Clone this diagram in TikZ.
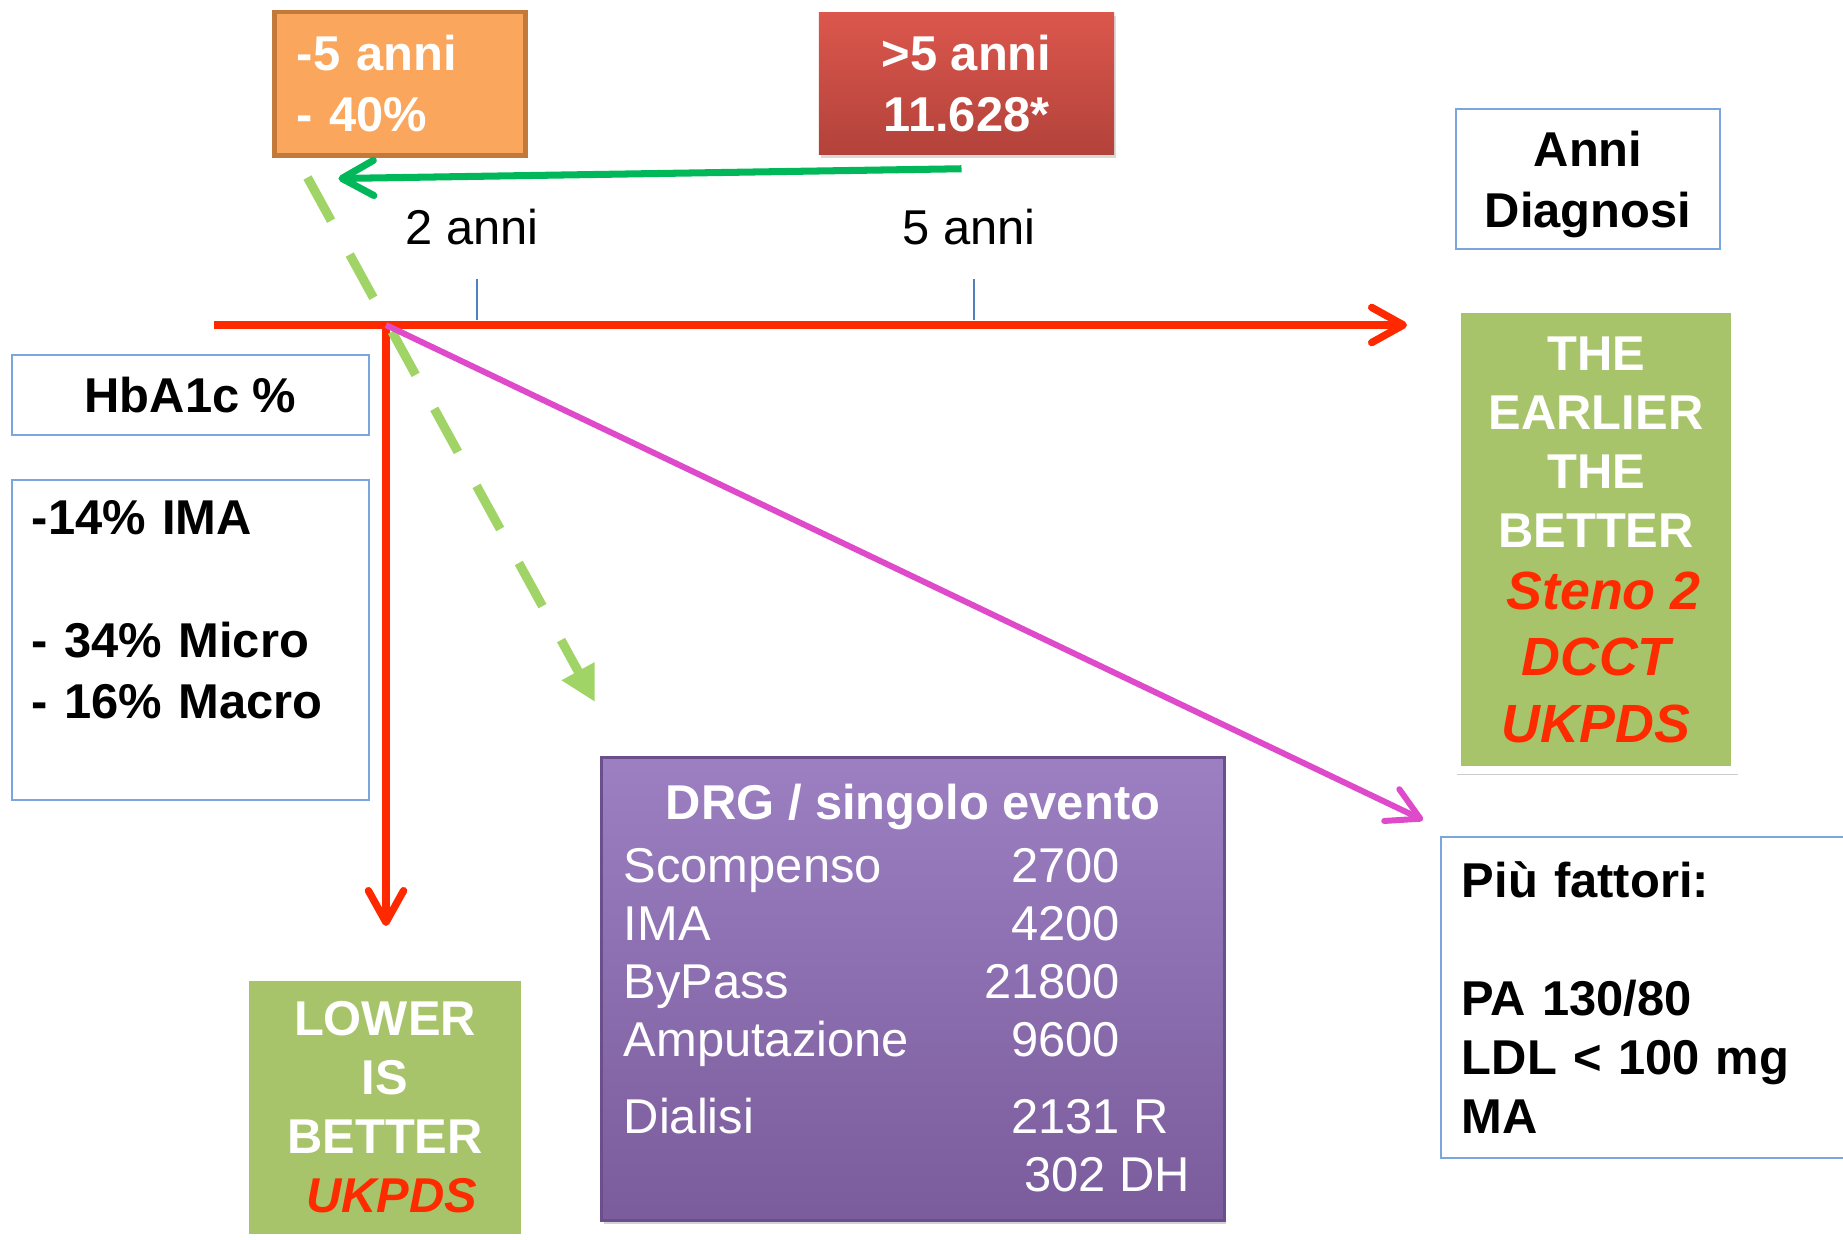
\documentclass[tikz,border=0pt]{standalone}
\usepackage{fontspec}
\setmainfont{Liberation Sans}
\usepackage{xcolor}
\usetikzlibrary{arrows.meta,shadows,positioning}
\definecolor{tangerine}{rgb}{0.98, 0.65, 0.36}
\definecolor{tangerinedark}{rgb}{0.76, 0.48, 0.23}
\definecolor{brickred}{rgb}{0.86, 0.34, 0.30}
\definecolor{brickdark}{rgb}{0.70, 0.26, 0.23}
\definecolor{axisred}{rgb}{1.0, 0.16, 0.0}
\definecolor{emerald}{rgb}{0.0, 0.72, 0.35}
\definecolor{limegreen}{rgb}{0.63, 0.83, 0.40}
\definecolor{orchid}{rgb}{0.87, 0.29, 0.79}
\definecolor{skyblue}{rgb}{0.48, 0.65, 0.87}
\definecolor{steelblue}{rgb}{0.31, 0.51, 0.74}
\definecolor{sagegreen}{rgb}{0.66, 0.77, 0.42}
\definecolor{stenored}{rgb}{1.0, 0.17, 0.0}
\definecolor{liliactop}{rgb}{0.61, 0.50, 0.76}
\definecolor{liliacbottom}{rgb}{0.48, 0.36, 0.61}
\definecolor{liliacedge}{rgb}{0.42, 0.31, 0.55}
\newcommand{\slidesize}[1]{\fontsize{13.9}{#1}\selectfont}
\tikzset{
    >={Straight Barb[length=9pt,width=10pt,round]},
    bluebox/.style={rectangle, draw=skyblue, line width=0.6pt, fill=white, inner sep=0pt},
    greenbox/.style={rectangle, fill=sagegreen, draw=white, line width=2.3pt, inner sep=0pt, align=center, text=white,
        drop shadow={shadow xshift=0.5pt, shadow yshift=-0.8pt, shadow scale=1.01, opacity=0.4}},
    axisline/.style={draw=axisred, line width=2.1pt},
    yeartick/.style={draw=steelblue, line width=0.5pt},
}

\begin{document}
\begin{tikzpicture}[x=0.01cm, y=-0.01cm]
    \useasboundingbox (0,0) rectangle (1843,1239);

    % Boxes on top
    \node[fill=tangerine, draw=tangerinedark, line width=1.4pt, rectangle, inner sep=0pt, minimum width=2.5cm, minimum height=1.43cm, text width=2.06cm, align=left, text=white, font=\slidesize{17.4}\bfseries] (under5) at (400,83.5) {-5 anni\\- 40\%};
    \node[top color=brickred, bottom color=brickdark, rectangle, inner sep=0pt, minimum width=2.95cm, minimum height=1.41cm, align=center, text=white, font=\slidesize{17.4}\bfseries, text depth=0pt, drop shadow={shadow xshift=0.5pt, shadow yshift=-1pt, opacity=0.3}] (over5) at (966.5,83.5) {>5 anni\\11.628*};

    \node[anchor=base, font=\slidesize{16.8}] (year2) at (472,244) {2 anni};
    \node[anchor=base, font=\slidesize{16.8}] (year5) at (969,244) {5 anni};

    \node[bluebox, minimum width=2.64cm, minimum height=1.4cm, align=center, font=\slidesize{17.4}\bfseries, text depth=0pt] (diagnosi) at (1588,179) {Anni\\Diagnosi};

    % Left column
    \node[bluebox, minimum width=3.57cm, minimum height=0.8cm, font=\slidesize{17.4}\bfseries, text depth=0pt] (hba) at (190.5,395) {HbA1c \%};
    \node[bluebox, minimum width=3.57cm, minimum height=3.2cm, text width=3.17cm, align=left, font=\slidesize{17.4}\bfseries] (risk) at (190.5,640) {-14\% IMA\\ \mbox{}\\- 34\% Micro\\- 16\% Macro\\ \mbox{}};

    \node[greenbox, minimum width=2.8cm, minimum height=2.61cm, font=\slidesize{16.8}\bfseries] (lower) at (385,1107.5) {LOWER\\IS\\BETTER\\{\itshape\color{stenored}~UKPDS}};

    % Costs
    \node[top color=liliactop, bottom color=liliacbottom, draw=liliacedge, line width=0.8pt, rectangle, inner sep=0pt, minimum width=6.22cm, text height=0.62cm, text depth=4.0cm, text=white, font=\slidesize{16.5}\bfseries, drop shadow={shadow xshift=0.6pt, shadow yshift=-1pt, opacity=0.35}] (drg) at (913,989) {DRG / singolo evento};
    \node[anchor=base west, inner sep=0pt, text=white, font=\slidesize{16.5}] (drgtable) at (623,882) {\begin{tabular}[t]{@{}l@{\hspace{0.75cm}}r@{}}
        Scompenso & 2700\\
        IMA & 4200\\
        ByPass & 21800\\
        Amputazione & 9600\\[5.4pt]
        Dialisi & 2131\rlap{~R}\\
        & 302\rlap{~DH}\hspace{0.14cm}
    \end{tabular}};

    % Right column
    \node[greenbox, minimum width=2.78cm, minimum height=4.61cm, font=\slidesize{16.8}\bfseries] (earlier) at (1596,539.5) {THE\\EARLIER\\THE\\BETTER\\[1pt]{\fontsize{15.3}{18.8}\selectfont\itshape\color{stenored}~Steno 2}\\[2pt]{\fontsize{15.3}{18.8}\selectfont\itshape\color{stenored}DCCT}\\[2pt]{\fontsize{15.3}{18.8}\selectfont\itshape\color{stenored}UKPDS}};
    \node[bluebox, minimum width=4.6cm, minimum height=3.21cm, text width=4.18cm, align=left, font=\slidesize{16.8}\bfseries] (factors) at (1671,997.5) {Più fattori:\\ \mbox{}\\PA 130/80\\LDL < 100 mg\\MA};

    % Axes
    \coordinate (axisstart) at (214,325);
    \coordinate (axisend) at (1407,325);
    \coordinate (origin) at (386,325);
    \coordinate (axisdown) at (386,926);
    \coordinate (tick2) at (477,320);
    \coordinate (tick5) at (974,320);
    \coordinate (dashend) at (595,702);
    \coordinate (costend) at (1423,820);

    \draw[yeartick] (tick2) -- ++(0,-41);
    \draw[yeartick] (tick5) -- ++(0,-41);
    \draw[axisline,->] (axisstart) -- (axisend);
    \draw[axisline,->] (origin) -- (axisdown);

    % Trends
    \draw[draw=limegreen, line width=2.6pt, dash pattern=on 14pt off 11pt, -{Triangle[length=10pt,width=10pt]}] ([shift={(35,20)}]under5.south west) -- (dashend);
    \draw[draw=orchid, line width=1.7pt, ->] (origin) -- (costend);
    \draw[draw=emerald, line width=2pt, ->] ([shift={(-5,14)}]over5.south) -- ([shift={(66,21)}]under5.south west);
\end{tikzpicture}
\end{document}
